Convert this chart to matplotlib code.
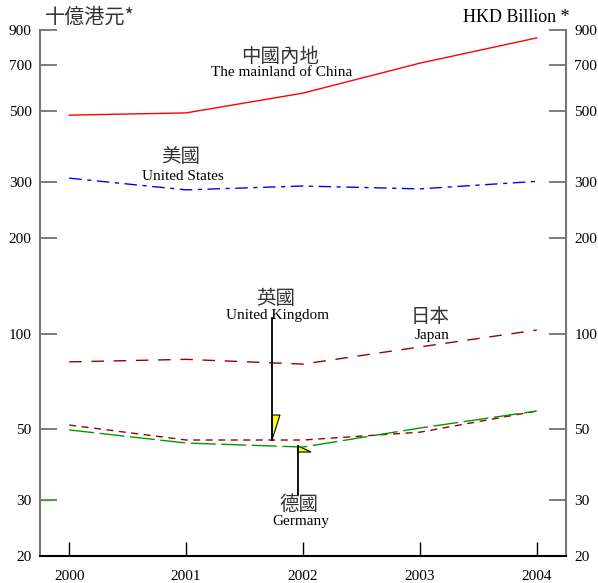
import matplotlib
matplotlib.use('Agg')
import matplotlib.pyplot as plt
from matplotlib.patches import Polygon

plt.rcParams['font.family'] = ['Liberation Serif', 'Noto Sans CJK TC', 'DejaVu Sans']

years = [2000, 2001, 2002, 2003, 2004]
china = [486, 494, 570, 708, 850]
usa = [308, 283, 291, 285, 301]
japan = [81.5, 83.0, 80.2, 90.8, 102.6]
uk = [51.6, 46.3, 46.3, 49.0, 57.1]
germany = [49.8, 45.3, 44.0, 50.5, 57.1]

yticks = [20, 30, 50, 100, 200, 300, 500, 700, 900]

cjk = ['Noto Sans CJK TC', 'DejaVu Sans']

fig = plt.figure(figsize=(5.98, 5.83), dpi=100)
ax = fig.add_axes([40 / 598, 27 / 583, 526 / 598, 526 / 583])

ax.plot(years, china, color='#ff0000', lw=1)
ax.plot(years, usa, color='#0000ff', lw=1, dashes=(9, 4, 3, 4))
ax.plot(years, japan, color='#990000', lw=1, dashes=(9, 7))
ax.plot(years, uk, color='#990000', lw=1, dashes=(5, 4))
ax.plot(years, germany, color='#009900', lw=1, dashes=(18, 4))

ax.set_yscale('log')
ax.set_ylim(20, 900)
ax.set_xlim(1999.75, 2004.25)
ax.set_yticks(yticks)
ax.set_yticklabels([str(t) for t in yticks])
ax.yaxis.set_minor_locator(matplotlib.ticker.NullLocator())
ax.set_xticks(years)
ax.set_xticklabels([str(y) for y in years])

ax.tick_params(axis='y', which='major', direction='in', length=12, width=1.2,
               color='#666666', labelsize=11, left=True, right=True,
               labelleft=True, labelright=True, pad=6)
ax.tick_params(axis='x', direction='in', length=10, width=1, color='black',
               labelsize=11, pad=10)

ax.spines['top'].set_visible(False)
for s in ('left', 'right'):
    ax.spines[s].set_color('#777777')
    ax.spines[s].set_linewidth(1.5)
ax.spines['bottom'].set_linewidth(1.5)

# green tick at 30 on left spine
ax.plot([1999.75, 1999.85], [30, 30], color='#33aa33', lw=1, clip_on=False)

# unit labels
fig.text(45 / 598, 1 - 17 / 583, '十億港元*', family=cjk, fontsize=14.5,
         color='#333333', va='center', ha='left', fontweight='light')
fig.text(570 / 598, 1 - 18 / 583, 'HKD Billion *', fontsize=13,
         va='center', ha='right')

def ax_xy(px, py):
    return ((px - 40) / 526, (556 - py) / 526)

# series labels (axes fraction coordinates)
def lab(px, py, zh, en, gap=18):
    x, y = ax_xy(px, py)
    ax.text(x, y, zh, transform=ax.transAxes, family=cjk, fontsize=14,
            ha='center', va='center', color='#333333', fontweight='light')
    x2, y2 = ax_xy(px + 2, py + gap)
    ax.text(x2, y2, en, transform=ax.transAxes, fontsize=11,
            ha='center', va='center')

lab(280, 57, '中國內地', 'The mainland of China', gap=16)
lab(181, 157, '美國', 'United States', gap=20)
lab(276, 298, '英國', 'United Kingdom')
lab(430, 317, '日本', 'Japan', gap=19)
lab(299, 504, '德國', 'Germany')

# flags
x0, y0 = ax_xy(272, 318)
x1, y1 = ax_xy(272, 440)
ax.plot([x0, x1], [y0, y1], transform=ax.transAxes, color='black', lw=1.3)
ax.add_patch(Polygon([ax_xy(272, 415), ax_xy(280, 415), ax_xy(272, 440)],
                     closed=True, transform=ax.transAxes, facecolor='#ffff00',
                     edgecolor='black', lw=0.8))
x0, y0 = ax_xy(298, 446)
x1, y1 = ax_xy(298, 495)
ax.plot([x0, x1], [y0, y1], transform=ax.transAxes, color='black', lw=1.3)
ax.add_patch(Polygon([ax_xy(298, 446), ax_xy(311, 452), ax_xy(298, 452)],
                     closed=True, transform=ax.transAxes, facecolor='#ffff00',
                     edgecolor='black', lw=0.8))

fig.savefig('out.png', dpi=100)
